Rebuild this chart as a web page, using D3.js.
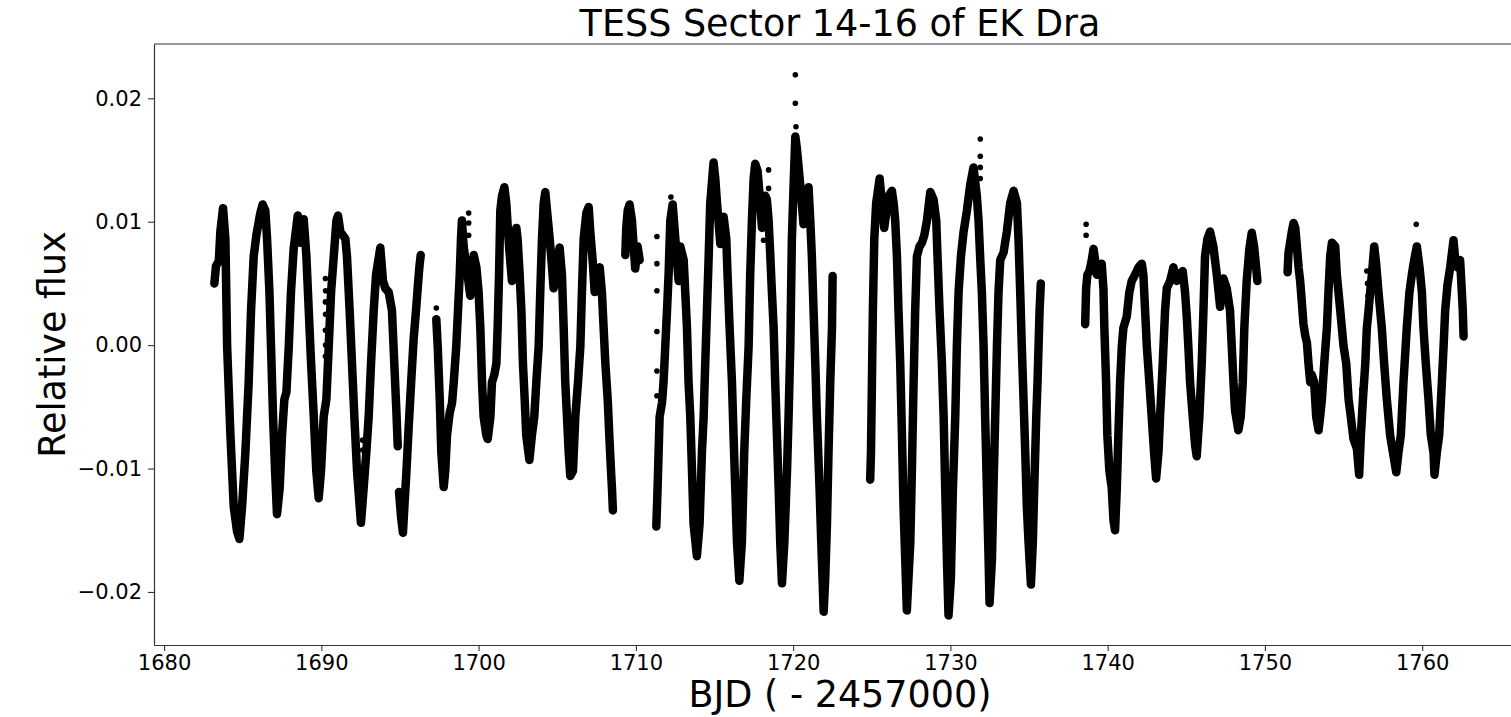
<!DOCTYPE html>
<html><head><meta charset="utf-8">
<script src="https://cdn.jsdelivr.net/npm/d3@7"></script>
<style>html,body{margin:0;padding:0;background:#fff;overflow:hidden}svg{display:block}</style>
</head><body>
<svg id="chart" width="1511" height="717"></svg>
<script>
const titleText = "TESS Sector 14-16 of EK Dra";
const xLabelText = "BJD ( - 2457000)";
const yLabelText = "Relative flux";
const xTicks = [1680, 1690, 1700, 1710, 1720, 1730, 1740, 1750, 1760];
const yTicks = [-0.02, -0.01, 0.00, 0.01, 0.02];
const yTickLabels = ["\u22120.02", "\u22120.01", "0.00", "0.01", "0.02"];

// Light-curve segments [BJD-2457000, relative flux]
const seg1 = [[1683.20,0.0050],[1683.30,0.0064],[1683.48,0.0068],[1683.58,0.0092],[1683.75,0.0111],[1683.90,0.0086],[1684.01,-0.0001],[1684.22,-0.0073],[1684.43,-0.0131],[1684.64,-0.0151],[1684.79,-0.0157],[1684.96,-0.0131],[1685.17,-0.0087],[1685.38,-0.0030],[1685.53,0.0028],[1685.70,0.0072],[1685.87,0.0089],[1686.12,0.0107],[1686.27,0.0114],[1686.44,0.0109],[1686.55,0.0086],[1686.70,0.0043],[1686.80,-0.0001],[1686.93,-0.0058],[1687.06,-0.0102],[1687.18,-0.0137],[1687.35,-0.0116],[1687.50,-0.0073],[1687.65,-0.0044],[1687.78,-0.0038],[1687.93,-0.0001],[1688.07,0.0043],[1688.24,0.0078],[1688.50,0.0105],[1688.67,0.0083],[1688.88,0.0102],[1689.05,0.0072],[1689.20,0.0028],[1689.35,-0.0015],[1689.52,-0.0058],[1689.68,-0.0102],[1689.83,-0.0124],[1689.98,-0.0102],[1690.15,-0.0058],[1690.32,-0.0044],[1690.47,-0.0001],[1690.62,0.0043],[1690.79,0.0072],[1690.96,0.0101],[1691.06,0.0105],[1691.21,0.0092],[1691.53,0.0086],[1691.63,0.0072],[1691.80,0.0028],[1691.95,-0.0015],[1692.10,-0.0058],[1692.27,-0.0102],[1692.44,-0.0131],[1692.52,-0.0144],[1692.69,-0.0116],[1692.86,-0.0087],[1693.01,-0.0058],[1693.16,-0.0015],[1693.33,0.0028],[1693.48,0.0057],[1693.75,0.0079],[1693.92,0.0052],[1694.07,0.0046],[1694.28,0.0043],[1694.49,0.0028],[1694.64,-0.0015],[1694.77,-0.0053],[1694.86,-0.0082]];
const seg2 = [[1694.94,-0.0119],[1695.07,-0.0139],[1695.19,-0.0152],[1695.28,-0.0131],[1695.40,-0.0105],[1695.56,-0.0065],[1695.72,-0.0028],[1695.87,0.0005],[1696.02,0.0028],[1696.15,0.0050],[1696.24,0.0064],[1696.32,0.0073]];
const seg3 = [[1697.31,0.0021],[1697.40,-0.0001],[1697.53,-0.0044],[1697.63,-0.0087],[1697.78,-0.0115],[1697.88,-0.0102],[1697.99,-0.0073],[1698.16,-0.0055],[1698.31,-0.0047],[1698.42,-0.0030],[1698.58,-0.0001],[1698.69,0.0028],[1698.80,0.0057],[1698.88,0.0086],[1698.94,0.0101],[1699.05,0.0080],[1699.16,0.0069],[1699.30,0.0057],[1699.47,0.0040],[1699.58,0.0057],[1699.69,0.0073],[1699.86,0.0063],[1700.00,0.0043],[1700.11,0.0014],[1700.22,-0.0030],[1700.32,-0.0058],[1700.49,-0.0073],[1700.58,-0.0076],[1700.75,-0.0058],[1700.85,-0.0030],[1701.00,-0.0024],[1701.13,-0.0015],[1701.21,0.0014],[1701.30,0.0057],[1701.38,0.0109],[1701.49,0.0121],[1701.64,0.0128],[1701.76,0.0115],[1701.87,0.0092],[1701.97,0.0075],[1702.12,0.0052],[1702.27,0.0080],[1702.40,0.0095],[1702.48,0.0086],[1702.61,0.0057],[1702.72,0.0028],[1702.82,-0.0015],[1702.93,-0.0044],[1703.03,-0.0073],[1703.23,-0.0093],[1703.39,-0.0073],[1703.54,-0.0058],[1703.67,-0.0030],[1703.82,-0.0001],[1703.92,0.0043],[1704.03,0.0086],[1704.14,0.0115],[1704.24,0.0124],[1704.35,0.0109],[1704.52,0.0086],[1704.67,0.0063],[1704.77,0.0046],[1704.98,0.0069],[1705.15,0.0079],[1705.30,0.0057],[1705.41,0.0014],[1705.51,-0.0030],[1705.62,-0.0058],[1705.73,-0.0087],[1705.83,-0.0106],[1706.00,-0.0102],[1706.15,-0.0058],[1706.32,-0.0030],[1706.47,-0.0001],[1706.57,0.0043],[1706.68,0.0086],[1706.85,0.0107],[1707.00,0.0112],[1707.10,0.0092],[1707.25,0.0069],[1707.38,0.0043],[1707.53,0.0052],[1707.70,0.0063],[1707.84,0.0043],[1707.95,0.0014],[1708.06,-0.0015],[1708.21,-0.0044],[1708.31,-0.0073],[1708.42,-0.0102],[1708.48,-0.0116],[1708.54,-0.0134]];
const seg4 = [[1709.33,0.0073],[1709.39,0.0095],[1709.48,0.0109],[1709.60,0.0114],[1709.75,0.0101],[1709.86,0.0080],[1709.96,0.0062],[1710.11,0.0080],[1710.24,0.0069]];
const seg5 = [[1711.30,-0.0147],[1711.38,-0.0116],[1711.51,-0.0058],[1711.66,-0.0047],[1711.76,-0.0030],[1711.87,-0.0001],[1711.98,0.0028],[1712.08,0.0057],[1712.19,0.0101],[1712.34,0.0114],[1712.51,0.0086],[1712.61,0.0069],[1712.72,0.0052],[1712.82,0.0080],[1713.04,0.0069],[1713.14,0.0043],[1713.25,0.0014],[1713.35,-0.0030],[1713.46,-0.0058],[1713.57,-0.0102],[1713.67,-0.0145],[1713.88,-0.0171],[1714.05,-0.0145],[1714.20,-0.0087],[1714.31,-0.0058],[1714.41,-0.0015],[1714.52,0.0028],[1714.63,0.0072],[1714.73,0.0115],[1714.94,0.0148],[1715.05,0.0135],[1715.16,0.0115],[1715.37,0.0082],[1715.58,0.0104],[1715.75,0.0086],[1715.83,0.0057],[1715.96,0.0014],[1716.11,-0.0030],[1716.21,-0.0073],[1716.32,-0.0116],[1716.43,-0.0160],[1716.58,-0.0191],[1716.74,-0.0160],[1716.89,-0.0087],[1717.02,-0.0044],[1717.17,-0.0001],[1717.27,0.0057],[1717.38,0.0101],[1717.49,0.0135],[1717.59,0.0147],[1717.74,0.0141],[1717.91,0.0115],[1718.02,0.0095],[1718.23,0.0121],[1718.33,0.0118],[1718.44,0.0101],[1718.55,0.0072],[1718.65,0.0043],[1718.76,0.0014],[1718.86,-0.0030],[1718.97,-0.0073],[1719.08,-0.0116],[1719.18,-0.0160],[1719.29,-0.0193],[1719.44,-0.0160],[1719.61,-0.0102],[1719.71,-0.0058],[1719.82,-0.0001],[1719.92,0.0086],[1720.03,0.0130],[1720.14,0.0169],[1720.24,0.0159],[1720.45,0.0130],[1720.66,0.0098],[1720.98,0.0128],[1721.09,0.0101],[1721.19,0.0072],[1721.30,0.0028],[1721.41,-0.0015],[1721.51,-0.0058],[1721.68,-0.0116],[1721.79,-0.0160],[1721.87,-0.0189],[1721.94,-0.0216],[1722.04,-0.0189],[1722.15,-0.0145],[1722.25,-0.0087],[1722.36,-0.0030],[1722.47,0.0014],[1722.51,0.0056]];
const seg6 = [[1724.90,-0.0109],[1724.95,-0.0087],[1725.01,-0.0030],[1725.07,0.0028],[1725.16,0.0086],[1725.28,0.0115],[1725.50,0.0135],[1725.64,0.0115],[1725.79,0.0095],[1726.07,0.0121],[1726.28,0.0125],[1726.39,0.0115],[1726.49,0.0101],[1726.60,0.0072],[1726.70,0.0028],[1726.81,-0.0015],[1726.92,-0.0073],[1727.02,-0.0131],[1727.13,-0.0174],[1727.23,-0.0215],[1727.45,-0.0160],[1727.55,-0.0102],[1727.66,-0.0030],[1727.76,0.0028],[1727.87,0.0072],[1728.04,0.0080],[1728.19,0.0083],[1728.34,0.0089],[1728.51,0.0101],[1728.72,0.0124],[1728.93,0.0118],[1729.10,0.0101],[1729.18,0.0072],[1729.31,0.0028],[1729.46,-0.0015],[1729.57,-0.0058],[1729.67,-0.0116],[1729.78,-0.0174],[1729.88,-0.0219],[1730.03,-0.0189],[1730.16,-0.0116],[1730.31,-0.0058],[1730.41,-0.0001],[1730.52,0.0043],[1730.67,0.0072],[1730.84,0.0092],[1731.05,0.0109],[1731.26,0.0130],[1731.47,0.0144],[1731.68,0.0121],[1731.79,0.0101],[1731.90,0.0069],[1732.00,0.0043],[1732.11,-0.0001],[1732.21,-0.0058],[1732.32,-0.0116],[1732.43,-0.0174],[1732.49,-0.0209],[1732.64,-0.0174],[1732.74,-0.0116],[1732.85,-0.0058],[1732.96,-0.0001],[1733.06,0.0043],[1733.17,0.0069],[1733.38,0.0075],[1733.59,0.0092],[1733.80,0.0115],[1734.02,0.0125],[1734.23,0.0115],[1734.33,0.0086],[1734.44,0.0043],[1734.54,-0.0001],[1734.65,-0.0044],[1734.76,-0.0087],[1734.86,-0.0131],[1734.97,-0.0160],[1735.12,-0.0194],[1735.24,-0.0160],[1735.33,-0.0116],[1735.46,-0.0058],[1735.54,-0.0030],[1735.67,0.0028],[1735.75,0.0050]];
const seg7 = [[1738.57,0.0017],[1738.63,0.0046],[1738.71,0.0057],[1738.84,0.0060],[1738.99,0.0069],[1739.10,0.0078],[1739.20,0.0069],[1739.31,0.0057],[1739.48,0.0063],[1739.62,0.0066],[1739.73,0.0046],[1739.79,0.0014],[1739.90,-0.0030],[1739.98,-0.0073],[1740.11,-0.0102],[1740.26,-0.0116],[1740.37,-0.0142],[1740.47,-0.0150],[1740.58,-0.0116],[1740.68,-0.0073],[1740.79,-0.0030],[1740.90,-0.0001],[1741.00,0.0014],[1741.21,0.0023],[1741.38,0.0043],[1741.53,0.0052],[1741.74,0.0057],[1741.96,0.0063],[1742.17,0.0066],[1742.27,0.0057],[1742.38,0.0028],[1742.49,-0.0001],[1742.65,-0.0030],[1742.80,-0.0058],[1742.95,-0.0087],[1743.08,-0.0108],[1743.23,-0.0087],[1743.33,-0.0058],[1743.50,-0.0015],[1743.65,0.0028],[1743.76,0.0046],[1743.97,0.0052],[1744.18,0.0063],[1744.39,0.0052],[1744.60,0.0057],[1744.77,0.0060],[1744.92,0.0043],[1745.03,0.0023],[1745.13,-0.0001],[1745.24,-0.0030],[1745.41,-0.0058],[1745.56,-0.0081],[1745.66,-0.0090],[1745.83,-0.0058],[1745.98,-0.0015],[1746.09,0.0028],[1746.19,0.0072],[1746.34,0.0086],[1746.51,0.0092],[1746.72,0.0080],[1746.94,0.0057],[1747.15,0.0031],[1747.36,0.0054],[1747.57,0.0046],[1747.78,0.0028],[1747.89,-0.0001],[1748.00,-0.0030],[1748.10,-0.0053],[1748.31,-0.0069],[1748.46,-0.0058],[1748.59,-0.0030],[1748.69,0.0014],[1748.84,0.0052],[1749.01,0.0078],[1749.16,0.0091],[1749.31,0.0080],[1749.44,0.0063],[1749.52,0.0052]];
const seg8 = [[1751.44,0.0059],[1751.50,0.0075],[1751.71,0.0092],[1751.82,0.0099],[1751.93,0.0095],[1752.03,0.0080],[1752.14,0.0063],[1752.24,0.0052],[1752.35,0.0034],[1752.45,0.0017],[1752.56,0.0008],[1752.67,0.0002],[1752.77,-0.0015],[1752.88,-0.0030],[1752.98,-0.0024],[1753.13,-0.0030],[1753.26,-0.0058],[1753.41,-0.0069],[1753.51,-0.0058],[1753.62,-0.0044],[1753.77,-0.0015],[1753.94,0.0014],[1754.04,0.0043],[1754.15,0.0072],[1754.26,0.0083],[1754.47,0.0080],[1754.57,0.0057],[1754.79,0.0028],[1755.00,-0.0001],[1755.17,-0.0015],[1755.32,-0.0044],[1755.46,-0.0058],[1755.63,-0.0076],[1755.85,-0.0084],[1755.99,-0.0105],[1756.10,-0.0073],[1756.23,-0.0044],[1756.38,-0.0015],[1756.48,0.0014],[1756.59,0.0028],[1756.69,0.0043],[1756.80,0.0057],[1756.95,0.0080],[1757.07,0.0066],[1757.22,0.0043],[1757.43,0.0014],[1757.58,-0.0015],[1757.75,-0.0044],[1757.96,-0.0073],[1758.18,-0.0090],[1758.35,-0.0103],[1758.49,-0.0087],[1758.64,-0.0073],[1758.81,-0.0030],[1759.02,0.0014],[1759.19,0.0043],[1759.34,0.0057],[1759.49,0.0069],[1759.66,0.0080],[1759.83,0.0063],[1759.98,0.0043],[1760.08,0.0014],[1760.23,-0.0015],[1760.40,-0.0044],[1760.55,-0.0073],[1760.72,-0.0087],[1760.78,-0.0105],[1760.93,-0.0087],[1761.08,-0.0073],[1761.25,-0.0030],[1761.36,-0.0001],[1761.46,0.0028],[1761.61,0.0049],[1761.78,0.0063],[1761.99,0.0085],[1762.10,0.0069],[1762.25,0.0063],[1762.41,0.0069],[1762.52,0.0043],[1762.58,0.0028],[1762.63,0.0007]];
const outliers = [[1690.26,0.0054],[1690.27,0.0044],[1690.26,0.0035],[1690.27,0.0025],[1690.26,0.0012],[1690.27,0.0000],[1690.26,-0.0009],[1692.63,-0.0077],[1692.63,-0.0085],[1697.31,0.0030],[1699.37,0.0107],[1699.37,0.0099],[1699.37,0.0089],[1711.34,0.0088],[1711.34,0.0066],[1711.34,0.0044],[1711.34,0.0011],[1711.34,-0.0021],[1711.34,-0.0041],[1712.23,0.0120],[1718.12,0.0085],[1718.44,0.0142],[1718.44,0.0127],[1720.14,0.0219],[1720.14,0.0196],[1720.18,0.0177],[1731.90,0.0167],[1731.90,0.0153],[1731.90,0.0144],[1731.90,0.0135],[1738.63,0.0098],[1738.63,0.0089],[1756.16,-0.0036],[1756.48,0.0060],[1756.52,0.0050],[1756.55,0.0040],[1759.62,0.0098]];
const segments = [seg1, seg2, seg3, seg4, seg5, seg6, seg7, seg8];

const svg = d3.select("#chart");
const font = "DejaVu Sans, Liberation Sans, sans-serif";
const L = 154, T = 44, B = 645, R = 1526;
const x = d3.scaleLinear().domain([1679.36, 1766.6]).range([L, R]);
const y = d3.scaleLinear().domain([-0.0243, 0.0244]).range([B, T]);

svg.append("rect").attr("width", 1511).attr("height", 717).attr("fill", "#fff");

const line = d3.line().x(d => x(d[0])).y(d => y(d[1]));
const data = svg.append("g");
data.selectAll("path.seg").data(segments).join("path")
  .attr("class", "seg").attr("d", line)
  .attr("fill", "none").attr("stroke", "#000").attr("stroke-width", 8.5)
  .attr("stroke-linejoin", "round").attr("stroke-linecap", "round");
data.selectAll("circle.out").data(outliers).join("circle")
  .attr("class", "out").attr("cx", d => x(d[0])).attr("cy", d => y(d[1]))
  .attr("r", 2.8).attr("fill", "#000");

// axes
const xAxis = d3.axisBottom(x).tickValues(xTicks).tickFormat(d3.format("d"))
  .tickSize(6).tickSizeOuter(0).tickPadding(4);
const gx = svg.append("g").attr("transform", `translate(0,${B})`).call(xAxis);
const yAxis = d3.axisLeft(y).tickValues(yTicks).tickFormat((d, i) => yTickLabels[i])
  .tickSize(6).tickSizeOuter(0).tickPadding(6);
const gy = svg.append("g").attr("transform", `translate(${L},0)`).call(yAxis);
[gx, gy].forEach(g => {
  g.select(".domain").attr("stroke", "#333").attr("stroke-width", 1.2);
  g.selectAll(".tick line").attr("stroke", "#333").attr("stroke-width", 1.1);
  g.selectAll(".tick text").attr("fill", "#000").style("font-family", font).style("font-size", "21px");
});
// top spine (right spine falls outside the 1511 px wide view)
svg.append("line").attr("x1", L).attr("x2", R).attr("y1", T).attr("y2", T)
  .attr("stroke", "#333").attr("stroke-width", 1.2);

svg.append("text").attr("x", (L + R) / 2).attr("y", 36).attr("text-anchor", "middle")
  .style("font-family", font).style("font-size", "36.5px").attr("fill", "#000").text(titleText);
svg.append("text").attr("x", (L + R) / 2).attr("y", 707).attr("text-anchor", "middle")
  .style("font-family", font).style("font-size", "36.5px").attr("fill", "#000").text(xLabelText);
svg.append("text").attr("transform", `translate(65,${(T + B) / 2}) rotate(-90)`).attr("text-anchor", "middle")
  .style("font-family", font).style("font-size", "36.5px").attr("fill", "#000").text(yLabelText);
</script>
</body></html>
